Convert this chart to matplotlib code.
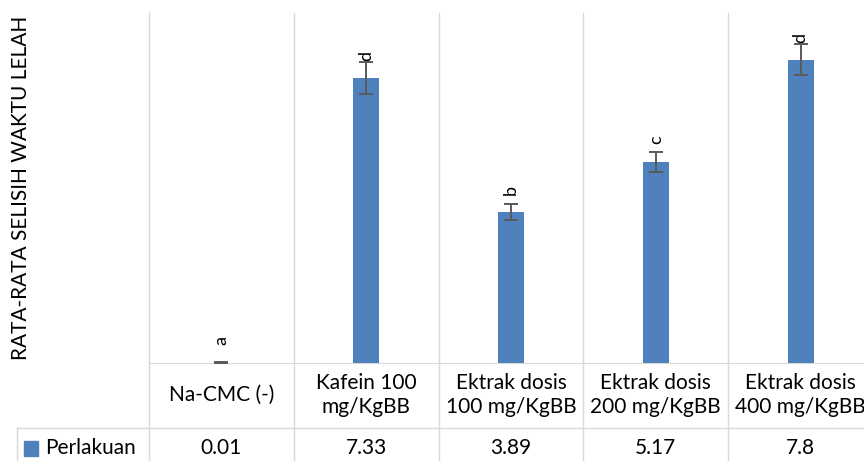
import matplotlib
matplotlib.use('Agg')
import matplotlib.pyplot as plt
import matplotlib.transforms as mtransforms
from matplotlib.patches import Rectangle
import numpy as np

categories = ['Na-CMC (-)', 'Kafein 100\nmg/KgBB', 'Ektrak dosis\n100 mg/KgBB',
              'Ektrak dosis\n200 mg/KgBB', 'Ektrak dosis\n400 mg/KgBB']
values = [0.01, 7.33, 3.89, 5.17, 7.8]
value_labels = ['0.01', '7.33', '3.89', '5.17', '7.8']
errors = [0.02, 0.4, 0.2, 0.26, 0.4]
letters = ['a', 'd', 'b', 'c', 'd']
series_name = 'Perlakuan'
ylabel = 'RATA-RATA SELISIH WAKTU LELAH'

bar_color = '#4F81BD'
grid_color = '#D9D9D9'
plt.rcParams['font.family'] = ['Lato', 'DejaVu Sans']

fig = plt.figure(figsize=(8.64, 4.61), dpi=100)
# plot area (right side runs past the edge, like the cropped original)
ax = fig.add_axes([149/864, 98/461, 724/864, 350/461])

x = np.arange(len(categories))
ax.bar(x, values, width=0.18, color=bar_color, zorder=3)
ax.errorbar(x, values, yerr=errors, fmt='none', ecolor='#595959',
            elinewidth=1.4, capsize=5, capthick=1.4, zorder=4)
# significance letters sit a fixed distance above each bar top
for xi, v, l in zip(x, values, letters):
    ax.annotate(l, (xi, v), xytext=(0, 15.8), textcoords='offset points',
                ha='center', va='center', rotation=90, fontsize=13, color='black')

ax.set_xlim(-0.5, len(categories) - 0.5)
ax.set_ylim(0, 9)
ax.set_xticks([])
ax.set_yticks([])
for s in ['top', 'left', 'right']:
    ax.spines[s].set_visible(False)
ax.spines['bottom'].set_color(grid_color)

# data table under the plot
row1_bot = -65/350
tab_bot = -0.35
key_left = -1.41
blend = mtransforms.blended_transform_factory(ax.transData, ax.transAxes)
for b in np.arange(-0.5, len(categories), 1.0):
    ax.plot([b, b], [1, tab_bot], color=grid_color, lw=1, transform=blend, clip_on=False)
ax.plot([key_left, len(categories) - 0.5], [row1_bot, row1_bot], color=grid_color,
        lw=1, transform=blend, clip_on=False)
ax.plot([key_left, key_left], [row1_bot, tab_bot], color=grid_color,
        lw=1, transform=blend, clip_on=False)

for xi, c, vl in zip(x, categories, value_labels):
    ax.text(xi, -32/350, c, transform=blend, ha='center', va='center',
            fontsize=15, linespacing=1.25, clip_on=False)
    ax.text(xi, -85/350, vl, transform=blend, ha='center', va='center',
            fontsize=15, clip_on=False)

ax.add_patch(Rectangle((-1.365, -93/350), 0.097, 15/350, transform=blend,
                       color=bar_color, clip_on=False))
ax.text(-1.22, -85/350, series_name, transform=blend, ha='left', va='center',
        fontsize=15, clip_on=False)

ax.text((21 - 149)/724, 0.5, ylabel, transform=ax.transAxes, rotation=90,
        ha='center', va='center', fontsize=15)

fig.savefig('out.png', dpi=100)
